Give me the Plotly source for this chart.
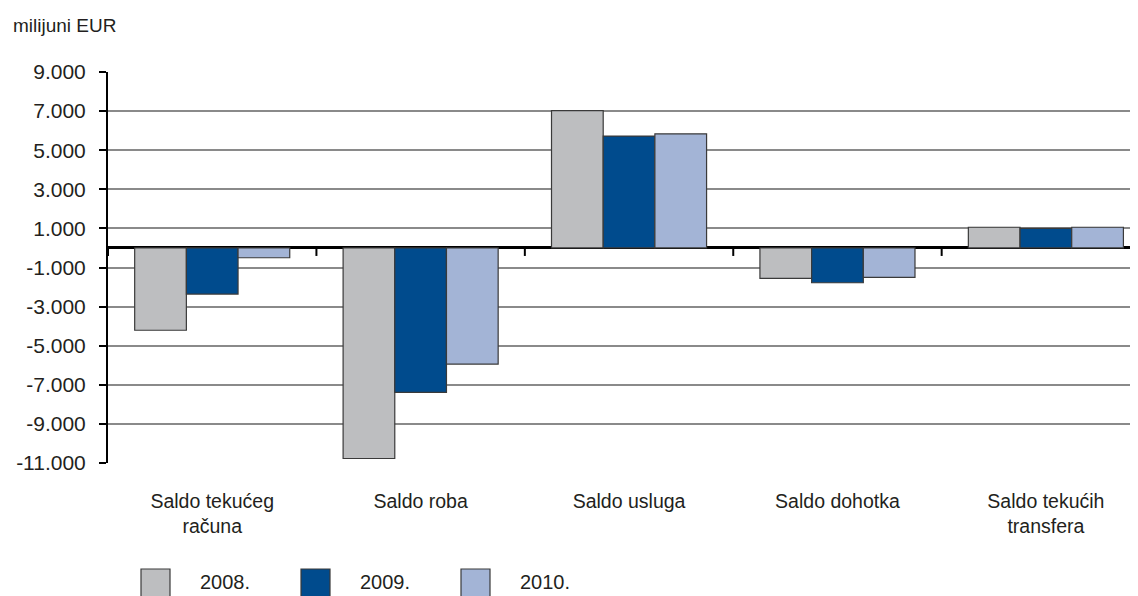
"""Saldo tekućeg računa po komponentama, 2008.-2010. (milijuni EUR)."""

import plotly.graph_objects as go

categories = [
    "Saldo tekućeg<br>računa",
    "Saldo roba",
    "Saldo usluga",
    "Saldo dohotka",
    "Saldo tekućih<br>transfera",
]
years = ["2008.", "2009.", "2010."]
values_2008 = [-4210, -10770, 7020, -1560, 1060]
values_2009 = [-2360, -7390, 5720, -1780, 1000]
values_2010 = [-500, -5940, 5840, -1510, 1060]
colors = ["#BDBEC0", "#004B8D", "#A3B4D6"]

tick_vals = list(range(-11000, 9001, 2000))
tick_text = [f"{v:,}".replace(",", ".") for v in tick_vals]

FONT = "Liberation Sans, Arial, sans-serif"
TEXT = "#231f20"

# the page body adds 8px around the figure
W, H = 1130, 588
ML, MT, MB = 100, 64, 133
PLOT_W = W - ML
PLOT_H = H - MT - MB

fig = go.Figure()
for name, vals, col in zip(years, [values_2008, values_2009, values_2010], colors):
    fig.add_trace(go.Bar(
        x=categories,
        y=vals,
        name=name,
        marker=dict(color=col, line=dict(color="#3a3a3a", width=1.2)),
        showlegend=False,
    ))

# boundary ticks hanging from the zero line
shapes = []
for i in range(len(categories)):
    shapes.append(dict(
        type="line", xref="x", yref="y", x0=i - 0.5, x1=i - 0.5,
        ysizemode="pixel", yanchor=0, y0=0, y1=-8,
        line=dict(color="black", width=2),
    ))

annotations = [dict(
    text="milijuni EUR", xref="paper", yref="paper",
    x=(11 - 108) / PLOT_W, y=(PLOT_H + MT - 18) / PLOT_H,
    xanchor="left", yanchor="middle", showarrow=False,
    font=dict(family=FONT, size=19, color=TEXT),
)]

# manual legend with large swatches
for k, (name, col) in enumerate(zip(years, colors)):
    x0 = 33 + 160 * k
    shapes.append(dict(
        type="rect", xref="paper", yref="paper",
        xsizemode="pixel", ysizemode="pixel",
        xanchor=0, yanchor=0,
        x0=x0, x1=x0 + 29, y0=-106, y1=-134,
        line=dict(color="#3a3a3a", width=1.2), fillcolor=col,
    ))
    annotations.append(dict(
        text=name, xref="paper", yref="paper",
        x=(x0 + 57) / PLOT_W, y=-119 / PLOT_H,
        xanchor="left", yanchor="middle", showarrow=False,
        font=dict(family=FONT, size=20, color=TEXT),
    ))

fig.update_layout(
    width=W,
    height=H,
    margin=dict(l=ML, r=0, t=MT, b=MB),
    plot_bgcolor="white",
    paper_bgcolor="white",
    barmode="group",
    bargap=0.256,
    bargroupgap=0,
    font=dict(family=FONT, size=19, color=TEXT),
    xaxis=dict(
        range=[-0.5, 4.442],  # last group runs a little past the right edge
        showgrid=False,
        showline=False,
        ticks="",
        ticklabelstandoff=24,
        tickfont=dict(family=FONT, size=19.5, color=TEXT),
    ),
    yaxis=dict(
        range=[-11000, 9000],
        tickvals=tick_vals,
        ticktext=tick_text,
        showgrid=True,
        gridcolor="#8a8a8a",
        gridwidth=1.5,
        zeroline=True,
        zerolinecolor="black",
        zerolinewidth=2.5,
        showline=True,
        linecolor="black",
        linewidth=2,
        ticks="outside",
        ticklen=7,
        tickwidth=2,
        tickcolor="black",
        ticklabelstandoff=9,
        tickfont=dict(family=FONT, size=21, color=TEXT),
    ),
    shapes=shapes,
    annotations=annotations,
)

fig.write_html("out.html")
